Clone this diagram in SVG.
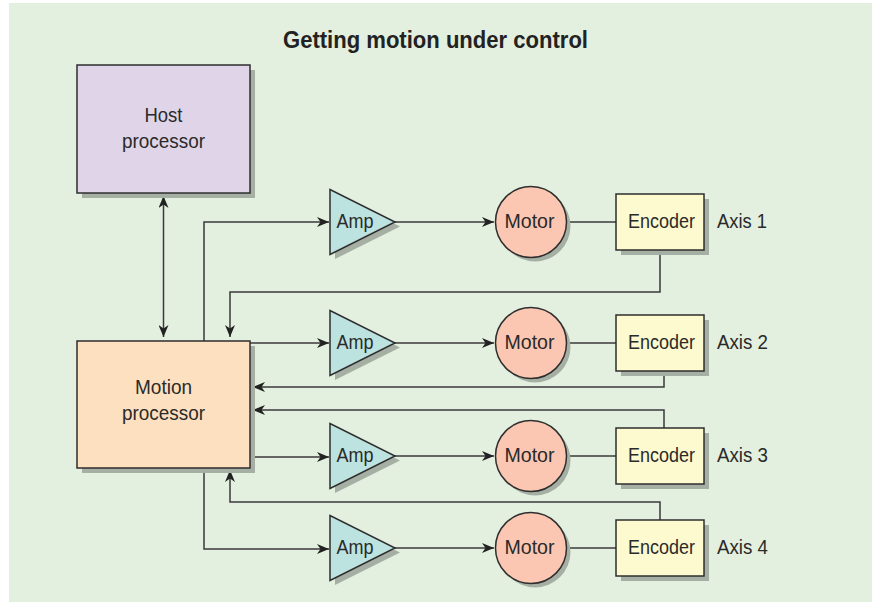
<svg xmlns="http://www.w3.org/2000/svg" width="872" height="602" viewBox="0 0 872 602">
  <style>
    .bg { fill: #e3efdf; }
    .shadow { fill: #a6afa4; }
    .box { stroke: #2e2e2e; stroke-width: 1.5; }
    .host { fill: #e0d5e8; }
    .motion { fill: #fde0bf; }
    .amp { fill: #bde3e0; }
    .motor { fill: #fbc7b2; }
    .enc { fill: #fefacf; }
    .lbl { font-family: "Liberation Sans", Arial, sans-serif; font-size: 20.5px; fill: #2a2a2a; }
    .mid { text-anchor: middle; }
    .title { font-family: "Liberation Sans", Arial, sans-serif; font-size: 24px; font-weight: bold; fill: #222; text-anchor: middle; }
    .wire { fill: none; stroke: #3a3a3a; stroke-width: 1.5; }
    .arr { marker-end: url(#head); }
  </style>
  <defs>
    <marker id="head" viewBox="0 0 12 10" refX="12" refY="5" markerWidth="12" markerHeight="10" markerUnits="userSpaceOnUse" orient="auto-start-reverse">
      <path d="M0,0 L12,5 L0,10 L3.5,5 z" fill="#222"/>
    </marker>
  </defs>

  <rect class="bg" x="9" y="3" width="863" height="599"/>

  <text class="title" x="435.5" y="48" textLength="305" lengthAdjust="spacingAndGlyphs">Getting motion under control</text>

  <!-- connectors -->
  <g id="connectors">
    <!-- host <-> motion -->
    <path class="wire" d="M163.5,196 L163.5,337" marker-start="url(#head)" marker-end="url(#head)"/>
    <!-- drive lines to amplifiers -->
    <path class="wire arr" d="M204,341 L204,222 L329,222"/>
    <path class="wire arr" d="M250,343 L329,343"/>
    <path class="wire arr" d="M250,457 L329,457"/>
    <path class="wire arr" d="M204,468 L204,549 L329,549"/>
    <!-- amplifier to motor -->
    <path class="wire arr" d="M395,222 L494,222"/>
    <path class="wire arr" d="M395,343 L494,343"/>
    <path class="wire arr" d="M395,456 L494,456"/>
    <path class="wire arr" d="M395,548 L494,548"/>
    <!-- motor to encoder -->
    <path class="wire" d="M566,222 L616,222"/>
    <path class="wire" d="M566,343 L616,343"/>
    <path class="wire" d="M566,456 L616,456"/>
    <path class="wire" d="M566,548 L616,548"/>
    <!-- encoder feedback -->
    <path class="wire arr" d="M660,250 L660,292 L230,292 L230,337"/>
    <path class="wire arr" d="M664,371 L664,387 L253,387"/>
    <path class="wire arr" d="M664,428 L664,410 L253,410"/>
    <path class="wire arr" d="M660,520 L660,502 L230,502 L230,470"/>
  </g>

  <g id="host">
    <rect class="shadow" x="82" y="70" width="173" height="128"/>
    <rect class="box host" x="77" y="65" width="173" height="128"/>
    <text class="lbl mid" x="163.5" y="122" textLength="38" lengthAdjust="spacingAndGlyphs">Host</text>
    <text class="lbl mid" x="163.5" y="148" textLength="83" lengthAdjust="spacingAndGlyphs">processor</text>
  </g>

  <g id="motion">
    <rect class="shadow" x="82" y="346" width="173" height="127"/>
    <rect class="box motion" x="77" y="341" width="173" height="127"/>
    <text class="lbl mid" x="163.5" y="394" textLength="57" lengthAdjust="spacingAndGlyphs">Motion</text>
    <text class="lbl mid" x="163.5" y="420" textLength="83" lengthAdjust="spacingAndGlyphs">processor</text>
  </g>

  <!-- axis 1 -->
  <g id="amp1">
    <polygon class="shadow" points="335,194 335,259 400,226.5"/>
    <polygon class="box amp" points="330,189.5 330,254.5 395,222"/>
    <text class="lbl" x="336.5" y="228" textLength="37" lengthAdjust="spacingAndGlyphs">Amp</text>
  </g>
  <g id="motor1">
    <circle class="shadow" cx="535" cy="226" r="35.5"/>
    <circle class="box motor" cx="531" cy="222" r="35.5"/>
    <text class="lbl mid" x="529.5" y="228" textLength="50" lengthAdjust="spacingAndGlyphs">Motor</text>
  </g>
  <g id="encoder1">
    <rect class="shadow" x="621" y="199" width="88" height="56"/>
    <rect class="box enc" x="616" y="194" width="88" height="56"/>
    <text class="lbl mid" x="661.5" y="228" textLength="67" lengthAdjust="spacingAndGlyphs">Encoder</text>
    <text class="lbl" x="717" y="228" textLength="50" lengthAdjust="spacingAndGlyphs">Axis 1</text>
  </g>

  <!-- axis 2 -->
  <g id="amp2">
    <polygon class="shadow" points="335,315 335,380 400,347.5"/>
    <polygon class="box amp" points="330,310.5 330,375.5 395,343"/>
    <text class="lbl" x="336.5" y="349" textLength="37" lengthAdjust="spacingAndGlyphs">Amp</text>
  </g>
  <g id="motor2">
    <circle class="shadow" cx="535" cy="347" r="35.5"/>
    <circle class="box motor" cx="531" cy="343" r="35.5"/>
    <text class="lbl mid" x="529.5" y="349" textLength="50" lengthAdjust="spacingAndGlyphs">Motor</text>
  </g>
  <g id="encoder2">
    <rect class="shadow" x="621" y="320" width="88" height="56"/>
    <rect class="box enc" x="616" y="315" width="88" height="56"/>
    <text class="lbl mid" x="661.5" y="349" textLength="67" lengthAdjust="spacingAndGlyphs">Encoder</text>
    <text class="lbl" x="717" y="349" textLength="51" lengthAdjust="spacingAndGlyphs">Axis 2</text>
  </g>

  <!-- axis 3 -->
  <g id="amp3">
    <polygon class="shadow" points="335,428 335,493 400,460.5"/>
    <polygon class="box amp" points="330,423.5 330,488.5 395,456"/>
    <text class="lbl" x="336.5" y="462" textLength="37" lengthAdjust="spacingAndGlyphs">Amp</text>
  </g>
  <g id="motor3">
    <circle class="shadow" cx="535" cy="460" r="35.5"/>
    <circle class="box motor" cx="531" cy="456" r="35.5"/>
    <text class="lbl mid" x="529.5" y="462" textLength="50" lengthAdjust="spacingAndGlyphs">Motor</text>
  </g>
  <g id="encoder3">
    <rect class="shadow" x="621" y="433" width="88" height="56"/>
    <rect class="box enc" x="616" y="428" width="88" height="56"/>
    <text class="lbl mid" x="661.5" y="462" textLength="67" lengthAdjust="spacingAndGlyphs">Encoder</text>
    <text class="lbl" x="717" y="462" textLength="51" lengthAdjust="spacingAndGlyphs">Axis 3</text>
  </g>

  <!-- axis 4 -->
  <g id="amp4">
    <polygon class="shadow" points="335,520 335,585 400,552.5"/>
    <polygon class="box amp" points="330,515.5 330,580.5 395,548"/>
    <text class="lbl" x="336.5" y="554" textLength="37" lengthAdjust="spacingAndGlyphs">Amp</text>
  </g>
  <g id="motor4">
    <circle class="shadow" cx="535" cy="552" r="35.5"/>
    <circle class="box motor" cx="531" cy="548" r="35.5"/>
    <text class="lbl mid" x="529.5" y="554" textLength="50" lengthAdjust="spacingAndGlyphs">Motor</text>
  </g>
  <g id="encoder4">
    <rect class="shadow" x="621" y="525" width="88" height="56"/>
    <rect class="box enc" x="616" y="520" width="88" height="56"/>
    <text class="lbl mid" x="661.5" y="554" textLength="67" lengthAdjust="spacingAndGlyphs">Encoder</text>
    <text class="lbl" x="717" y="554" textLength="51" lengthAdjust="spacingAndGlyphs">Axis 4</text>
  </g>
</svg>
